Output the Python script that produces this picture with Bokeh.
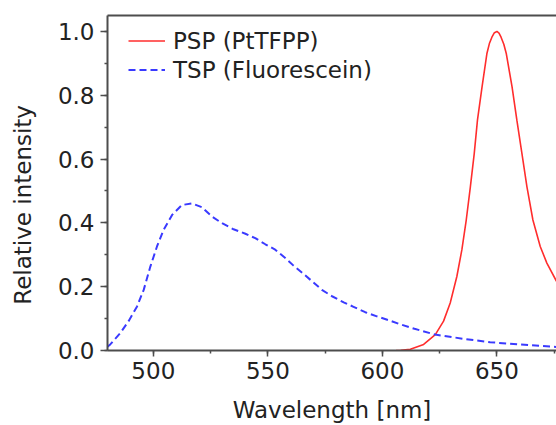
from bokeh.plotting import figure
from bokeh.models import (Range1d, LinearAxis, SingleIntervalTicker, FixedTicker,
                          NumeralTickFormatter, Legend, LegendItem)
from bokeh.embed import file_html
from bokeh.resources import INLINE

# ---- data ----
tsp_wl = [480, 481.2, 485.6, 489.2, 492.9, 495.8, 498.7, 501.6, 504.5, 508.2, 512.5,
          516.9, 521.2, 525.6, 530, 535, 540.2, 544.5, 548.9, 553.2, 557.6, 561.2,
          565.6, 569.3, 573.6, 578, 583.1, 587.4, 592.5, 597.6, 602.7, 607, 614,
          623, 635, 647, 660, 676]
tsp_int = [0.012, 0.019, 0.055, 0.092, 0.138, 0.19, 0.263, 0.326, 0.378, 0.425, 0.456,
           0.461, 0.449, 0.42, 0.399, 0.38, 0.366, 0.352, 0.333, 0.316, 0.29, 0.266,
           0.24, 0.217, 0.19, 0.17, 0.151, 0.137, 0.12, 0.107, 0.095, 0.084, 0.068,
           0.05, 0.037, 0.026, 0.019, 0.011]

psp_wl = [606, 608, 612.2, 618, 623.1, 626.7, 629.6, 632.5, 634.7, 636.6, 638.4,
          640.1, 641.5, 643.5, 645.6, 646.7, 647.8, 648.9, 650, 650.9, 651.8, 653,
          654.1, 656.6, 658.7, 660.9, 663.1, 665.7, 668.9, 671.8, 676]
psp_int = [0.0, 0.001, 0.004, 0.019, 0.05, 0.092, 0.149, 0.232, 0.316, 0.409, 0.513,
           0.618, 0.722, 0.826, 0.93, 0.962, 0.982, 0.996, 1.0, 0.995, 0.982, 0.96,
           0.93, 0.826, 0.722, 0.618, 0.513, 0.409, 0.326, 0.274, 0.217]

series_labels = ["PSP (PtTFPP)", "TSP (Fluorescein)"]
x_label = "Wavelength [nm]"
y_label = "Relative intensity"

FONT = "DejaVu Sans"
FS = "23px"
AX = "#4d4d4d"
TXT = "#222222"

p = figure(width=556, height=425, output_backend="svg", toolbar_location=None,
           x_range=Range1d(480, 676), y_range=Range1d(0, 1.05),
           x_axis_location=None, y_axis_location=None,
           min_border_left=107, min_border_right=0, min_border_top=15, min_border_bottom=74)
p.outline_line_color = None
p.background_fill_color = "white"
p.border_fill_color = "white"
p.grid.visible = False

xaxis = LinearAxis(ticker=SingleIntervalTicker(interval=50, num_minor_ticks=2))
yaxis = LinearAxis(ticker=SingleIntervalTicker(interval=0.2, num_minor_ticks=2),
                   formatter=NumeralTickFormatter(format="0.0"))
top = LinearAxis(ticker=FixedTicker(ticks=[]))
for ax in (xaxis, yaxis, top):
    ax.axis_line_color = AX
    ax.axis_line_width = 2
    ax.major_tick_line_color = AX
    ax.minor_tick_line_color = AX
    ax.major_tick_line_width = 1.5
    ax.minor_tick_line_width = 1.5
    ax.major_tick_in = 0
    ax.minor_tick_in = 0
    ax.major_label_text_font = FONT
    ax.major_label_text_font_size = FS
    ax.major_label_text_color = TXT
    ax.axis_label_text_font = FONT
    ax.axis_label_text_font_size = FS
    ax.axis_label_text_font_style = "normal"
    ax.axis_label_text_color = TXT
xaxis.major_tick_out = 6
xaxis.minor_tick_out = 3
xaxis.major_label_standoff = 5
xaxis.axis_label = x_label
xaxis.axis_label_standoff = 15
yaxis.major_tick_out = 7
yaxis.minor_tick_out = 3
yaxis.major_label_standoff = 6
# trailing no-break spaces move the rotated title down to where the reference has it
yaxis.axis_label = y_label + "\u00a0" * 6
yaxis.axis_label_standoff = 19
# top frame line only: no ticks, no labels
top.major_tick_out = 1
top.minor_tick_out = 1
top.major_tick_line_color = None
top.minor_tick_line_color = None
top.major_label_standoff = 0
p.add_layout(xaxis, "below")
p.add_layout(yaxis, "left")
p.add_layout(top, "above")

r_psp = p.line(psp_wl, psp_int, line_color="#ff2d2d", line_width=1.6)
r_tsp = p.line(tsp_wl, tsp_int, line_color="#3a3aff", line_width=2, line_dash="7 4")

legend = Legend(items=[LegendItem(label=series_labels[0], renderers=[r_psp]),
                       LegendItem(label=series_labels[1], renderers=[r_tsp])],
                location=(21, 267), margin=0, padding=0, spacing=2,
                glyph_width=37, glyph_height=27, label_height=27, label_standoff=8,
                label_text_font=FONT, label_text_font_size=FS, label_text_color=TXT,
                border_line_color=None, background_fill_alpha=0)
p.add_layout(legend)

open("out.html", "w").write(file_html(p, INLINE))
